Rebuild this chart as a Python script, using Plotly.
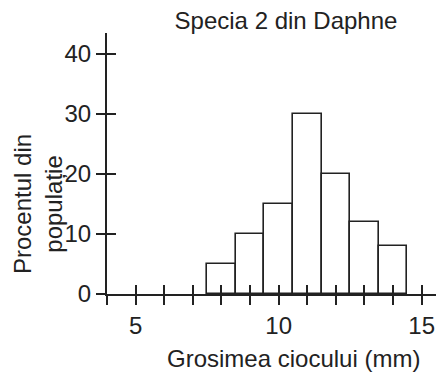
import plotly.graph_objects as go

# Data
bin_centers = [8, 9, 10, 11, 12, 13, 14]
percentages = [5, 10, 15, 30, 20, 12, 8]
x_tick_vals = [4, 5, 6, 7, 8, 9, 10, 11, 12, 13, 14, 15]
x_tick_text = ["", "5", "", "", "", "", "10", "", "", "", "", "15"]
y_tick_vals = [0, 10, 20, 30, 40]

title_text = "Specia 2 din Daphne"
x_title = "Grosimea ciocului (mm)"
y_title = "Procentul din<br>populație"

FONT = "Liberation Sans, Arial, sans-serif"
INK = "#222222"
FS = 24

W = 439
H = 372
L = 107
T = 33
PW = 329
PH = 261

fig = go.Figure()
fig.add_trace(go.Bar(
    x=bin_centers, y=percentages, width=1,
    marker=dict(color="white", line=dict(color=INK, width=1.6)),
    showlegend=False, hoverinfo="skip",
))

axis_common = dict(showgrid=False, zeroline=False)

fig.update_layout(
    width=W, height=H,
    margin=dict(l=L, r=W - L - PW, t=T, b=H - T - PH),
    paper_bgcolor="white", plot_bgcolor="white",
    font=dict(family=FONT, size=FS, color=INK),
    title=dict(text=title_text, x=286 / W, xanchor="center",
               y=1 - 21 / H, yanchor="middle",
               xref="container", yref="container",
               font=dict(size=FS, color=INK, family=FONT)),
    xaxis=dict(range=[4, 15.5], tickvals=x_tick_vals, ticktext=x_tick_text,
               ticks="outside", ticklen=9, tickwidth=1.5, tickcolor=INK,
               showline=True, linewidth=2, linecolor=INK,
               ticklabeloverflow="allow",
               tickfont=dict(size=FS), **axis_common),
    yaxis=dict(range=[0, 43.5], tickvals=y_tick_vals,
               ticks="outside", ticklen=9, tickwidth=1.5, tickcolor=INK,
               showline=True, linewidth=2, linecolor=INK,
               tickfont=dict(size=FS), **axis_common),
    xaxis2=dict(range=[4, 15.5], overlaying="x", tickvals=x_tick_vals,
                showticklabels=False, ticks="inside", ticklen=9, tickwidth=1.5,
                tickcolor=INK, showline=False, **axis_common),
    yaxis2=dict(range=[0, 43.5], overlaying="y", tickvals=y_tick_vals,
                showticklabels=False, ticks="inside", ticklen=9, tickwidth=1.5,
                tickcolor=INK, showline=False, **axis_common),
    bargap=0,
)

# invisible trace to activate overlay axes
fig.add_trace(go.Scatter(x=[4], y=[0], xaxis="x2", yaxis="y2", mode="markers",
                         marker=dict(opacity=0), showlegend=False, hoverinfo="skip"))

fig.add_annotation(text=y_title, textangle=-90, xref="paper", yref="y",
                   x=(38 - L) / PW, y=15, xanchor="center", yanchor="middle",
                   showarrow=False, font=dict(size=FS, color=INK, family=FONT))
fig.add_annotation(text=x_title, xref="x", yref="paper",
                   x=10.52, y=(294 - 358) / PH, xanchor="center", yanchor="middle",
                   showarrow=False, font=dict(size=FS, color=INK, family=FONT))

fig.write_html(
    "out.html",
    config={"displayModeBar": False},
    post_script="document.body.style.margin='0';document.body.style.overflow='hidden';",
)
